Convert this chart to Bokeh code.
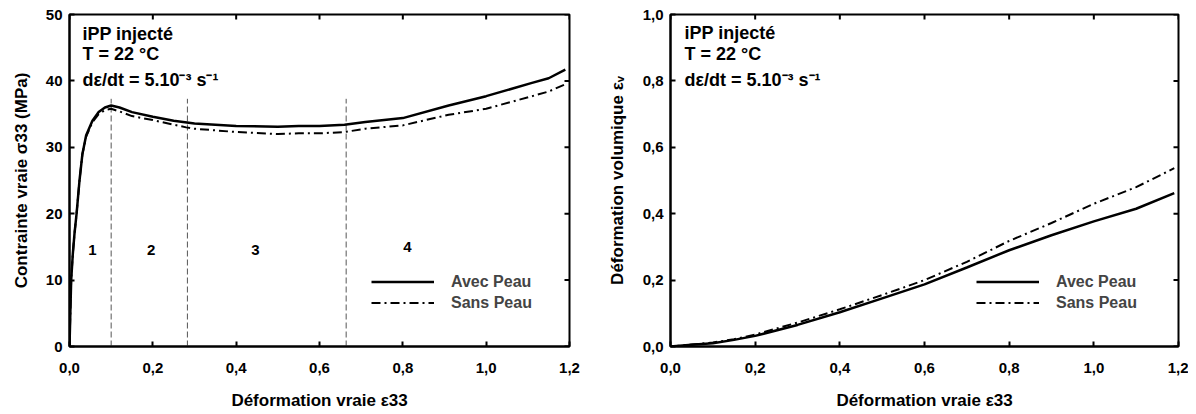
import math
from bokeh.plotting import figure
from bokeh.layouts import row
from bokeh.models import FixedTicker, Legend, LegendItem, Range1d
from bokeh.core.properties import value
from bokeh.embed import file_html
from bokeh.resources import INLINE

# ---------------- data ----------------
# Left panel: true stress vs true strain
strain_avec = [0, 0.002, 0.004, 0.008, 0.012, 0.017, 0.024, 0.031, 0.04, 0.055, 0.07, 0.085, 0.1,
               0.12, 0.15, 0.2, 0.25, 0.3, 0.4, 0.5, 0.55, 0.6, 0.66, 0.71, 0.8, 0.91, 1.0, 1.11, 1.15, 1.19]
stress_avec = [0, 5, 10, 14, 17, 20, 25, 29, 31.8, 34.0, 35.3, 36.0, 36.3,
               36.0, 35.3, 34.6, 34.0, 33.6, 33.2, 33.1, 33.2, 33.2, 33.4, 33.8, 34.4, 36.3, 37.7, 39.7, 40.4, 41.7]
strain_sans = [0, 0.002, 0.004, 0.008, 0.012, 0.017, 0.024, 0.031, 0.04, 0.055, 0.07, 0.085, 0.1,
               0.12, 0.15, 0.2, 0.25, 0.28, 0.3, 0.4, 0.5, 0.55, 0.6, 0.66, 0.71, 0.8, 0.91, 1.0, 1.11, 1.15, 1.19]
stress_sans = [0, 5, 10, 14, 17, 20, 25, 29, 31.6, 33.8, 35.0, 35.6, 35.8,
               35.4, 34.7, 34.1, 33.4, 33.0, 32.8, 32.3, 32.0, 32.1, 32.1, 32.3, 32.8, 33.3, 34.9, 35.8, 37.7, 38.4, 39.5]

# region boundaries and labels
boundary_x = [0.1, 0.283, 0.664]
boundary_top = [37.3, 37.3, 37.3]
region_x = [0.055, 0.196, 0.446, 0.811]
region_y = [14.6, 14.6, 14.6, 15.0]
region_names = ["1", "2", "3", "4"]

# Right panel: volumetric strain vs true strain
strain_v = [0, 0.05, 0.1, 0.15, 0.2, 0.3, 0.4, 0.5, 0.6, 0.7, 0.8, 0.9, 1.0, 1.1, 1.19]
vol_avec = [0, 0.005, 0.01, 0.02, 0.032, 0.065, 0.103, 0.145, 0.187, 0.238, 0.29, 0.335, 0.377, 0.415, 0.462]
vol_sans = [0, 0.006, 0.012, 0.022, 0.036, 0.072, 0.112, 0.155, 0.2, 0.255, 0.318, 0.372, 0.43, 0.48, 0.537]

x_ticks = [0, 0.2, 0.4, 0.6, 0.8, 1.0, 1.2]
x_tick_labels = ["0,0", "0,2", "0,4", "0,6", "0,8", "1,0", "1,2"]
y1_ticks = [0, 10, 20, 30, 40, 50]
y1_tick_labels = ["0", "10", "20", "30", "40", "50"]
y2_ticks = [0, 0.2, 0.4, 0.6, 0.8, 1.0]
y2_tick_labels = ["0,0", "0,2", "0,4", "0,6", "0,8", "1,0"]

info_lines = ["iPP injecté", "T = 22 °C", "dε/dt = 5.10⁻³ s⁻¹"]
info_y1 = [47.1, 44.0, 40.2]
info_y2 = [0.943, 0.88, 0.804]
series_names = ["Avec Peau", "Sans Peau"]

FONT = "Liberation Sans"
DASHDOT = "9 4 2 4"


def style_axis(ax, ticks, labels):
    ax.ticker = FixedTicker(ticks=ticks)
    ax.major_label_overrides = {t: l for t, l in zip(ticks, labels)}
    ax.minor_tick_line_color = None
    ax.axis_line_color = "black"
    ax.axis_line_width = 2
    ax.major_tick_line_color = "black"
    ax.major_tick_line_width = 2
    ax.major_tick_in = 5
    ax.major_tick_out = 0
    ax.major_label_text_font = FONT
    ax.major_label_text_font_style = "bold"
    ax.major_label_text_font_size = "15px"
    ax.major_label_text_color = "black"
    ax.axis_label_text_font = FONT
    ax.axis_label_text_font_style = "bold"
    ax.axis_label_text_font_size = "17px"
    ax.axis_label_text_color = "black"


def make_fig(width, x_range, y_range, yticks, ylabels, ylabel, b_left, b_right, ylab_standoff):
    p = figure(width=width, height=412, output_backend="svg", toolbar_location=None,
               x_range=x_range, y_range=y_range,
               min_border_left=b_left, min_border_right=b_right,
               min_border_top=14, min_border_bottom=61)
    p.grid.visible = False
    p.outline_line_color = "black"
    p.outline_line_width = 2
    p.background_fill_color = "white"
    p.border_fill_color = "white"
    style_axis(p.xaxis[0], x_ticks, x_tick_labels)
    style_axis(p.yaxis[0], yticks, ylabels)
    p.xaxis[0].axis_label = "Déformation vraie ε33"
    p.xaxis[0].major_label_standoff = 16
    p.xaxis[0].axis_label_standoff = 15
    p.yaxis[0].axis_label = ylabel
    p.yaxis[0].major_label_standoff = 7
    p.yaxis[0].axis_label_standoff = ylab_standoff
    # inward ticks on the top and right edges of the frame
    p.scatter(x=x_ticks, y=[y_range.end] * len(x_ticks), marker="dash", angle=math.pi / 2,
              size=10, line_color="black", line_width=2)
    p.scatter(x=[x_range.end] * len(yticks), y=yticks, marker="dash",
              size=10, line_color="black", line_width=2)
    return p


def add_info(p, x, ys):
    p.text(x=[x] * len(info_lines), y=ys, text=info_lines,
           text_font=value(FONT), text_font_style="bold", text_font_size="18px",
           text_baseline="middle", text_align="left", text_color="black")


def add_legend(p, r1, r2, loc):
    leg = Legend(items=[LegendItem(label=series_names[0], renderers=[r1]),
                        LegendItem(label=series_names[1], renderers=[r2])],
                 location=loc)
    leg.label_text_font = FONT
    leg.label_text_font_style = "bold"
    leg.label_text_font_size = "16px"
    leg.glyph_width = 63
    leg.glyph_height = 21
    leg.label_height = 21
    leg.label_standoff = 17
    leg.spacing = 0
    leg.padding = 0
    leg.margin = 0
    leg.border_line_color = None
    leg.background_fill_alpha = 0
    p.add_layout(leg, "center")


# ---------------- left figure ----------------
p1 = make_fig(600, Range1d(0, 1.2), Range1d(0, 50), y1_ticks, y1_tick_labels,
              "Contrainte vraie σ33 (MPa)", 69, 31, 12)
p1.segment(x0=boundary_x, x1=boundary_x, y0=[0] * len(boundary_x), y1=boundary_top,
           line_color="#555555", line_width=1, line_dash="6 3")
r1a = p1.line(strain_avec, stress_avec, line_color="black", line_width=2.5)
r1b = p1.line(strain_sans, stress_sans, line_color="black", line_width=2, line_dash=DASHDOT)
p1.text(x=region_x, y=region_y, text=region_names, text_font=value(FONT),
        text_font_style="bold", text_font_size="15px", text_align="center",
        text_baseline="middle", text_color="black")
add_info(p1, 0.031, info_y1)
add_legend(p1, r1a, r1b, (302, 33))

# ---------------- right figure ----------------
p2 = make_fig(588, Range1d(0, 1.2), Range1d(0, 1.0), y2_ticks, y2_tick_labels,
              "Déformation volumique εᵥ", 70, 10, 13)
r2a = p2.line(strain_v, vol_avec, line_color="black", line_width=2.5)
r2b = p2.line(strain_v, vol_sans, line_color="black", line_width=2, line_dash=DASHDOT)
add_info(p2, 0.033, info_y2)
add_legend(p2, r2a, r2b, (306, 33))

layout = row(p1, p2)
open("out.html", "w").write(file_html(layout, INLINE))
